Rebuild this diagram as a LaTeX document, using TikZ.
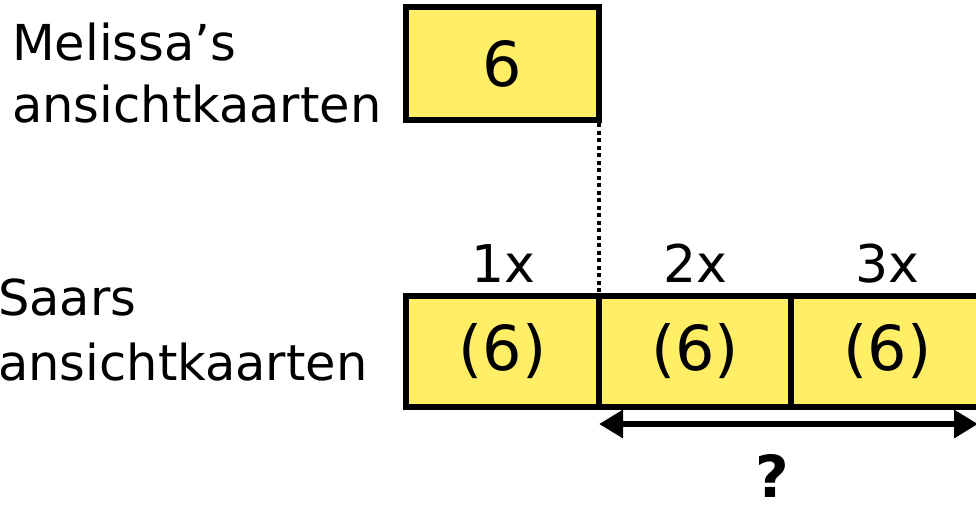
\documentclass[tikz,border=0pt]{standalone}
\usepackage{fontspec}
\setmainfont{DejaVu Sans}
\usetikzlibrary{arrows.meta}
\definecolor{barfill}{HTML}{FFEE66}
\tikzset{
  cell/.style={draw=black, line width=6.5pt, fill=barfill, inner sep=0pt, outer sep=0pt, minimum height=111pt},
  lbl/.style={anchor=base west, inner sep=0pt, font=\fontsize{49.5}{57}\selectfont},
  num/.style={font=\fontsize{62}{70}\selectfont},
  tag/.style={anchor=base, inner sep=0pt, font=\fontsize{52}{60}\selectfont},
}
\begin{document}
\begin{tikzpicture}[x=1pt,y=-1pt]
\useasboundingbox (0,0) rectangle (976,512);
\node[cell, minimum width=193pt, minimum height=113pt, num] (m6) at (502.5,63.5) {6};
\node[cell, minimum width=193pt, num] (c1) at (502.5,351.5) {(6)};
\node[cell, minimum width=192pt, num] (c2) at (695,351.5) {(6)};
\node[cell, minimum width=193pt, num] (c3) at (887.5,351.5) {(6)};
\node[lbl] (t1) at (12,60) {Melissa’s};
\node[lbl] (t2) at (12,122) {ansichtkaarten};
\node[lbl] (t3) at (-2,315) {Saars};
\node[lbl] (t4) at (-2,380) {ansichtkaarten};
\node[tag] (x1) at (503,282) {1x};
\node[tag] (x2) at (695,282) {2x};
\node[tag] (x3) at (887,282) {3x};
\draw[line width=3.5pt, dash pattern=on 4pt off 3.5pt] (m6.south east) ++(0,3) -- (c2.north west);
\coordinate (aL) at (599,424);
\coordinate (aR) at (978,424);
\draw[line width=6pt, {Triangle[length=24pt,width=27pt]}-{Triangle[length=24pt,width=27pt]}] (aL) -- (aR);
\node[font=\bfseries\fontsize{58}{66}\selectfont, inner sep=0pt, anchor=base] (q) at (772,497) {?};
\end{tikzpicture}
\end{document}
